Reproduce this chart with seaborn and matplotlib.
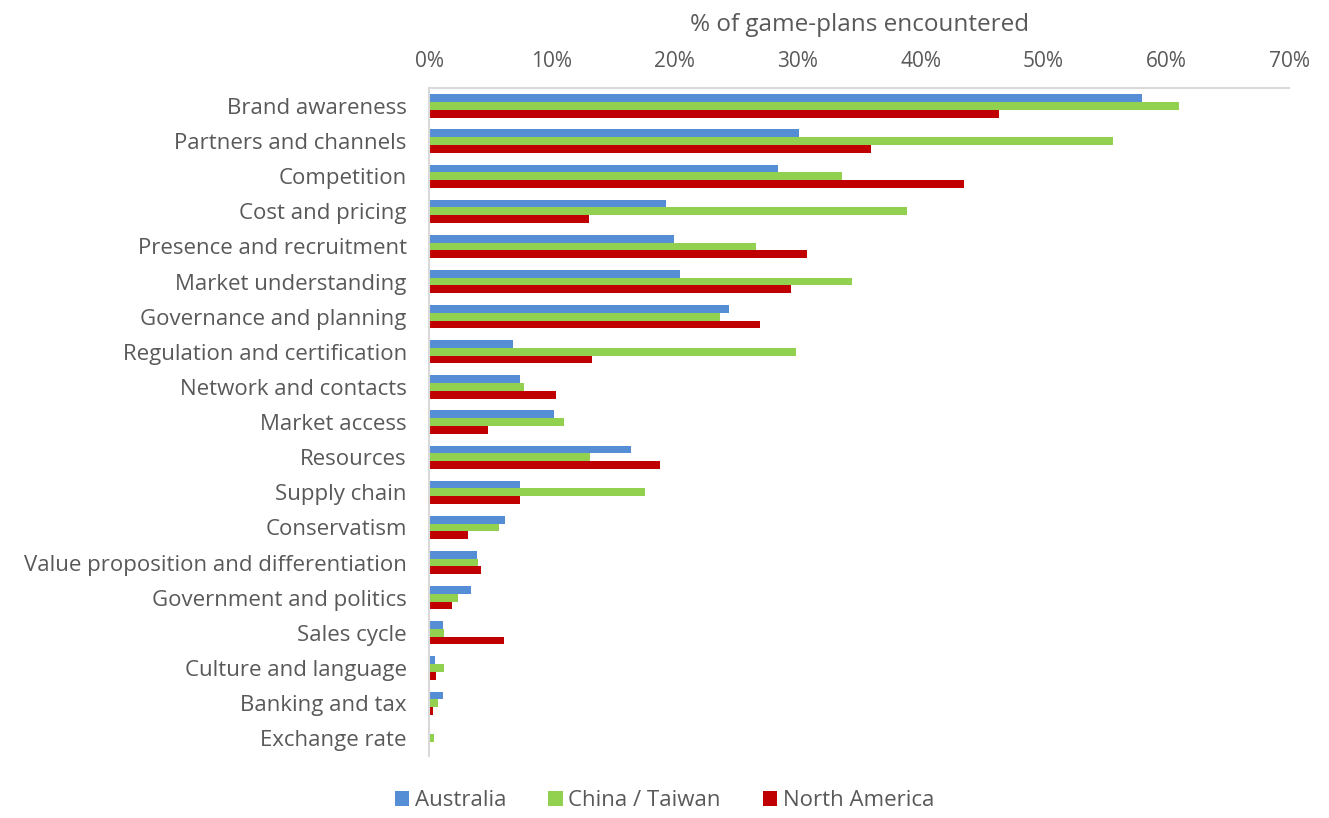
import matplotlib
matplotlib.use("Agg")
import matplotlib.pyplot as plt
import seaborn as sns
import pandas as pd
from matplotlib.ticker import PercentFormatter
from matplotlib.patches import Patch

categories = ["Brand awareness", "Partners and channels", "Competition", "Cost and pricing",
              "Presence and recruitment", "Market understanding", "Governance and planning",
              "Regulation and certification", "Network and contacts", "Market access",
              "Resources", "Supply chain", "Conservatism", "Value proposition and differentiation",
              "Government and politics", "Sales cycle", "Culture and language", "Banking and tax",
              "Exchange rate"]
australia = [58.0, 30.1, 28.4, 19.3, 19.9, 20.4, 24.4, 6.8, 7.4, 10.2, 16.4, 7.4, 6.2, 3.9, 3.4, 1.1, 0.5, 1.1, 0.0]
china_taiwan = [61.0, 55.7, 33.6, 38.9, 26.6, 34.4, 23.7, 29.9, 7.7, 11.0, 13.1, 17.6, 5.7, 4.0, 2.4, 1.2, 1.2, 0.7, 0.4]
north_america = [46.4, 36.0, 43.5, 13.0, 30.8, 29.5, 26.9, 13.3, 10.3, 4.8, 18.8, 7.4, 3.2, 4.2, 1.9, 6.1, 0.6, 0.3, 0.0]
series_names = ["Australia", "China / Taiwan", "North America"]
colors = ["#558ED5", "#92D050", "#C00000"]
x_ticks = [0, 10, 20, 30, 40, 50, 60, 70]

rows = []
for name, vals in zip(series_names, [australia, china_taiwan, north_america]):
    for c, v in zip(categories, vals):
        rows.append({"category": c, "series": name, "value": v})
df = pd.DataFrame(rows)

sns.set_theme(style="white")
plt.rcParams['font.family'] = ['Open Sans', 'DejaVu Sans']
text_color = "#595959"

fig = plt.figure(figsize=(13.29, 8.18), dpi=100)
ax = fig.add_axes([0.3228, 0.076, 0.6472, 0.816])
sns.barplot(data=df, y="category", x="value", hue="series", order=categories,
            hue_order=series_names, palette=colors, width=0.66, orient="h",
            saturation=1, linewidth=0, ax=ax, legend=False)

ax.set_xlim(0, 70)
ax.set_xticks(x_ticks)
ax.xaxis.set_major_formatter(PercentFormatter(decimals=0))
ax.xaxis.tick_top()
ax.xaxis.set_label_position("top")
ax.set_xlabel("% of game-plans encountered", fontsize=17.5, color=text_color, labelpad=14)
ax.set_ylabel("")
ax.set_ylim(len(categories) - 0.5, -0.5)
ax.tick_params(axis="x", length=0, labelsize=15, labelcolor=text_color, pad=12)
ax.tick_params(axis="y", length=0, labelsize=16, labelcolor=text_color, pad=16)
for s in ["right", "bottom"]:
    ax.spines[s].set_visible(False)
for s in ["top", "left"]:
    ax.spines[s].set_color("#D9D9D9")
    ax.spines[s].set_linewidth(1.5)
ax.grid(False)

handles = [Patch(facecolor=c, edgecolor="none") for c in colors]
fig.legend(handles, series_names, loc="lower center", bbox_to_anchor=(0.5, -0.016), ncol=3,
           frameon=False, fontsize=16, labelcolor=text_color, handlelength=0.65,
           handleheight=0.65, handletextpad=0.25, columnspacing=1.9)

fig.savefig("out.png", dpi=100)
